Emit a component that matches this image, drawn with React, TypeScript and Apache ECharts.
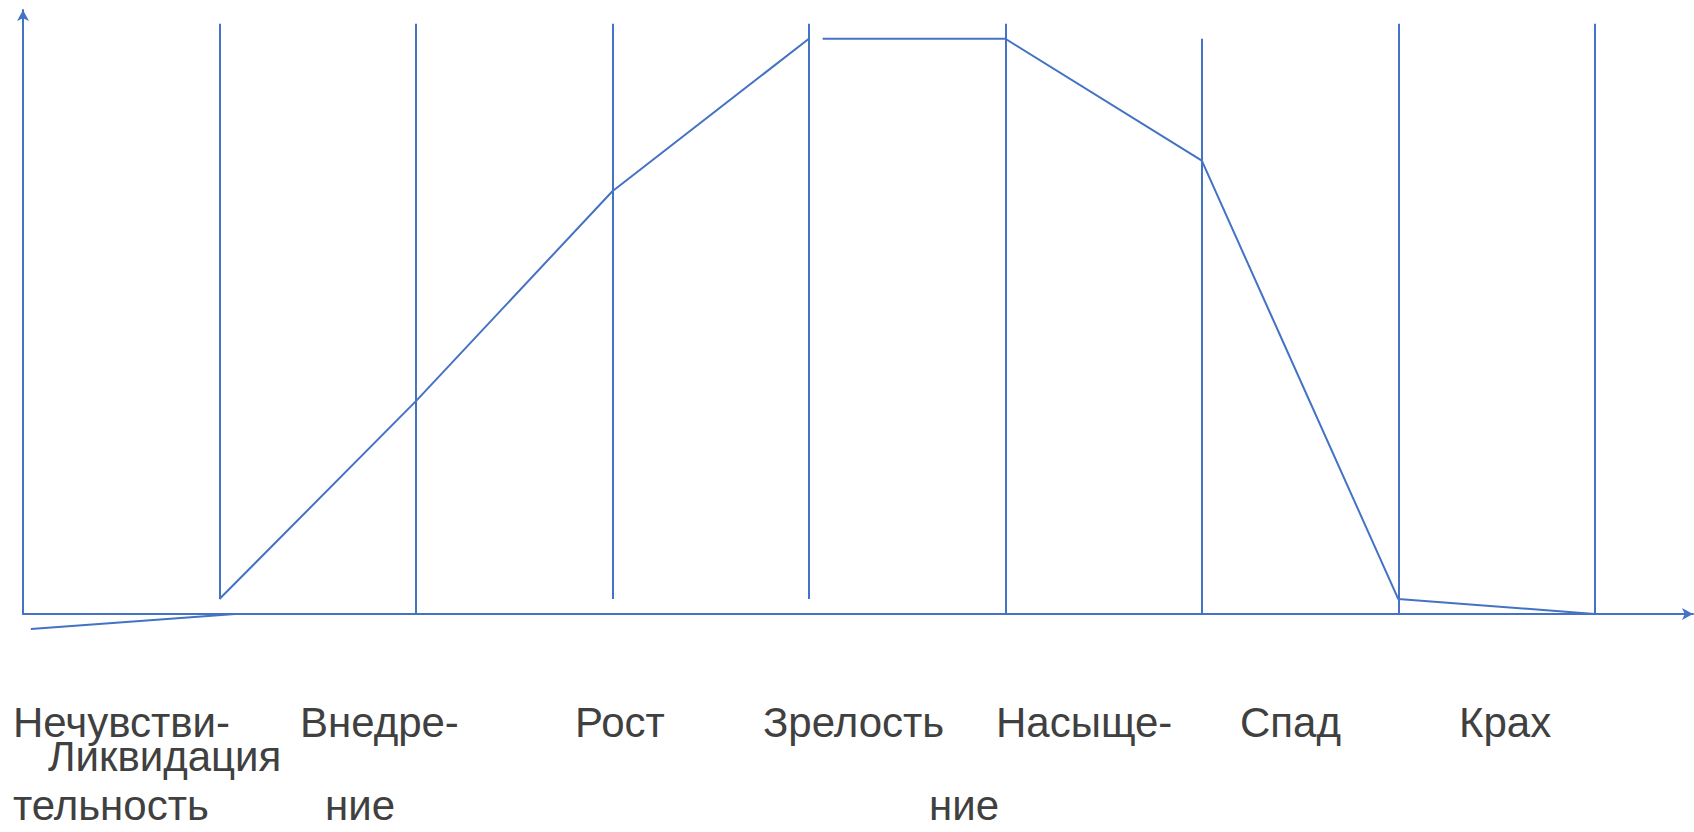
import React, { useEffect, useRef } from "react";
import * as echarts from "echarts";

// Stage index along the x axis (0 = y axis, 1..8 = vertical stage boundaries)
const stageBoundaries = [1, 2, 3, 4, 5, 6, 7, 8];
// vertical boundary lines: [bottom value, top value]
const boundaryBottoms = [2.6, 0, 2.6, 2.6, 0, 0, 0, 0];
const boundaryTops = [102.6, 102.6, 102.6, 102.6, 102.6, 100, 102.6, 102.6];

// life-cycle curve pieces
const risePart: [number, number][] = [[1, 2.6], [2, 37], [3, 73.5], [4, 100]];
const plateauPart: [number, number][] = [[4.07, 100], [5, 100]];
const fallPart: [number, number][] = [[5, 100], [6, 78.8], [7, 2.6], [8, 0]];
const liquidationPart: [number, number][] = [[0.04, -2.6], [1.08, 0]];

// stage labels (as laid out in the original, with broken hyphenation)
const labelTexts = [
  "Нечувстви-",
  "тельность",
  "Внедре-",
  "ние",
  "Рост",
  "Зрелость",
  "Насыще-",
  "ние",
  "Спад",
  "Крах",
  "Ликвидация",
];
// label anchors: [left x, baseline y]
const labelAnchors: [number, number][] = [
  [13, 737],
  [13, 820],
  [300, 737],
  [325, 820],
  [575, 737],
  [763, 737],
  [996, 737],
  [929, 820],
  [1240, 737],
  [1459, 737],
  [48, 771],
];

const BLUE = "#4472C4";
const TEXT = "#404040";
const FONT_SIZE = 42;

export default function App() {
  const ref = useRef<HTMLDivElement>(null);

  useEffect(() => {
    if (!ref.current) return;
    const chart = echarts.init(ref.current, undefined, { renderer: "svg" });

    const lineSeries = (data: [number, number][]) => ({
      type: "line",
      data,
      symbol: "none",
      clip: false,
      silent: true,
      lineStyle: { color: BLUE, width: 2 },
      z: 3,
    });

    const boundaryLines = stageBoundaries.map((x, i) => [
      { coord: [x, boundaryBottoms[i]] },
      { coord: [x, boundaryTops[i]] },
    ]);

    const option: any = {
      animation: false,
      backgroundColor: "#ffffff",
      grid: { left: 23, right: 1, top: 10, bottom: 218, containLabel: false },
      xAxis: {
        type: "value",
        min: 0,
        max: 8.5,
        axisLine: {
          show: true,
          lineStyle: { color: BLUE, width: 2 },
          symbol: ["none", "arrow"],
          symbolSize: [9, 11],
        },
        axisTick: { show: false },
        axisLabel: { show: false },
        splitLine: { show: false },
      },
      yAxis: {
        type: "value",
        min: 0,
        max: 105,
        axisLine: {
          show: true,
          lineStyle: { color: BLUE, width: 2 },
          symbol: ["none", "arrow"],
          symbolSize: [9, 11],
        },
        axisTick: { show: false },
        axisLabel: { show: false },
        splitLine: { show: false },
      },
      series: [
        {
          ...lineSeries(risePart),
          markLine: {
            silent: true,
            symbol: ["none", "none"],
            label: { show: false },
            lineStyle: { color: BLUE, width: 2, type: "solid" },
            data: boundaryLines,
          },
        },
        lineSeries(plateauPart),
        lineSeries(fallPart),
        lineSeries(liquidationPart),
      ],
      graphic: labelTexts.map((t, i) => ({
        type: "text",
        x: labelAnchors[i][0],
        y: labelAnchors[i][1] - 35.6,
        silent: true,
        style: {
          text: t,
          fontSize: FONT_SIZE,
          fontFamily: "'Liberation Sans', Arial, sans-serif",
          fill: TEXT,
          verticalAlign: "top",
          align: "left",
        },
      })),
    };

    chart.setOption(option);
    return () => chart.dispose();
  }, []);

  return (
    <div
      ref={ref}
      style={{ position: "fixed", left: 0, top: 0, width: 1694, height: 832, background: "#fff" }}
    />
  );
}
